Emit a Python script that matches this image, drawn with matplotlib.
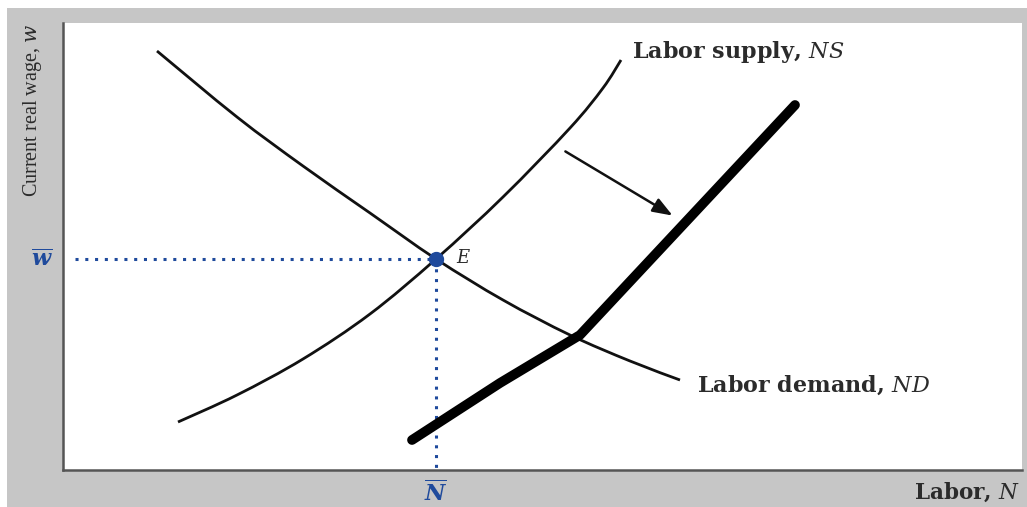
import matplotlib.pyplot as plt
from matplotlib.patches import Rectangle, PathPatch
from matplotlib.path import Path

# values (x = labor, y = wage in picture units, y grows downward)
nd_x = [157, 237, 303, 370, 436, 503, 570, 630, 680]
nd_y = [51, 117, 166, 213, 259, 300, 335, 361, 380]

ns_x = [178, 237, 303, 370, 436, 503, 570, 603, 621]
ns_y = [422, 395, 359, 314, 259, 197, 128, 88, 60]

new_x = [412, 500, 580, 795]
new_y = [440, 383, 335, 105]

eq_n, eq_w = 436, 259
arrow_start = (563, 150)
arrow_end = (675, 217)

blue = '#1f4a9c'
ink = '#2b2b2b'


def smooth_path(xs, ys):
    # Catmull-Rom curve through the read points, as cubic Bezier pieces
    pts = list(zip(xs, ys))
    ext = [pts[0]] + pts + [pts[-1]]
    verts = [pts[0]]
    codes = [Path.MOVETO]
    for i in range(1, len(ext) - 2):
        p0, p1, p2, p3 = ext[i - 1], ext[i], ext[i + 1], ext[i + 2]
        c1 = (p1[0] + (p2[0] - p0[0]) / 6, p1[1] + (p2[1] - p0[1]) / 6)
        c2 = (p2[0] - (p3[0] - p1[0]) / 6, p2[1] - (p3[1] - p1[1]) / 6)
        verts += [c1, c2, p2]
        codes += [Path.CURVE4] * 3
    return Path(verts, codes)


plt.rcParams['mathtext.fontset'] = 'custom'
plt.rcParams['mathtext.it'] = 'DejaVu Serif:italic'
plt.rcParams['mathtext.rm'] = 'DejaVu Serif'
plt.rcParams['mathtext.bf'] = 'DejaVu Serif:italic:bold'

fig = plt.figure(figsize=(10.27, 5.07), dpi=100, facecolor='white')
fig.add_artist(Rectangle((7 / 1027, 0), 1, 499 / 507, transform=fig.transFigure,
                         facecolor='#c6c6c6', edgecolor='none', zorder=-10))

ax = fig.add_axes([63 / 1027, 37 / 507, 959 / 1027, 447 / 507])
ax.set_facecolor('white')
ax.set_xlim(63, 1022)
ax.set_ylim(470, 23)
ax.set_xticks([])
ax.set_yticks([])
for s in ['top', 'right']:
    ax.spines[s].set_visible(False)
for s in ['left', 'bottom']:
    ax.spines[s].set_color('#555555')
    ax.spines[s].set_linewidth(1.8)

# dotted guides to the equilibrium
ax.plot([75, eq_n], [eq_w, eq_w], color=blue, linestyle=(0, (1, 2.2)), linewidth=2.2)
ax.plot([eq_n, eq_n], [eq_w, 470], color=blue, linestyle=(0, (1, 2.2)), linewidth=2.2)

ax.add_patch(PathPatch(smooth_path(nd_x, nd_y), facecolor='none',
                       edgecolor='#111111', linewidth=2))
ax.add_patch(PathPatch(smooth_path(ns_x, ns_y), facecolor='none',
                       edgecolor='#111111', linewidth=2))
ax.plot(new_x, new_y, color='black', linewidth=7, solid_capstyle='round',
        solid_joinstyle='round')

ax.plot([eq_n], [eq_w], 'o', color=blue, markersize=10, zorder=5)

ax.annotate('', xy=arrow_end, xytext=arrow_start,
            arrowprops=dict(arrowstyle='-|>,head_length=1.2,head_width=0.45',
                            color='#111111', lw=1.8))

serif = 'DejaVu Serif'
ax.text(632, 52, r'Labor supply, $NS$', fontsize=16, fontweight='bold',
        family=serif, color=ink, va='center', ha='left')
ax.text(697, 385, r'Labor demand, $ND$', fontsize=16, fontweight='bold',
        family=serif, color=ink, va='center', ha='left')
ax.text(456, 258, r'$E$', fontsize=13, color=ink, va='center', ha='left')

ax.text(42, eq_w, r'$\mathbf{\overline{w}}$', fontsize=16, color=blue,
        va='center', ha='center', clip_on=False)
ax.text(eq_n, 492, r'$\mathbf{\overline{N}}$', fontsize=16, color=blue,
        va='center', ha='center', clip_on=False)

ax.text(1020, 492, r'Labor, $N$', fontsize=15.5, fontweight='bold', family=serif,
        color=ink, va='center', ha='right', clip_on=False)
ax.text(33, 24, 'Current real wage, $w$', fontsize=14.5, family='Liberation Serif',
        color=ink, rotation=90, va='top', ha='center', clip_on=False,
        math_fontfamily='dejavuserif')

fig.savefig('out.png', dpi=100, facecolor='white')
